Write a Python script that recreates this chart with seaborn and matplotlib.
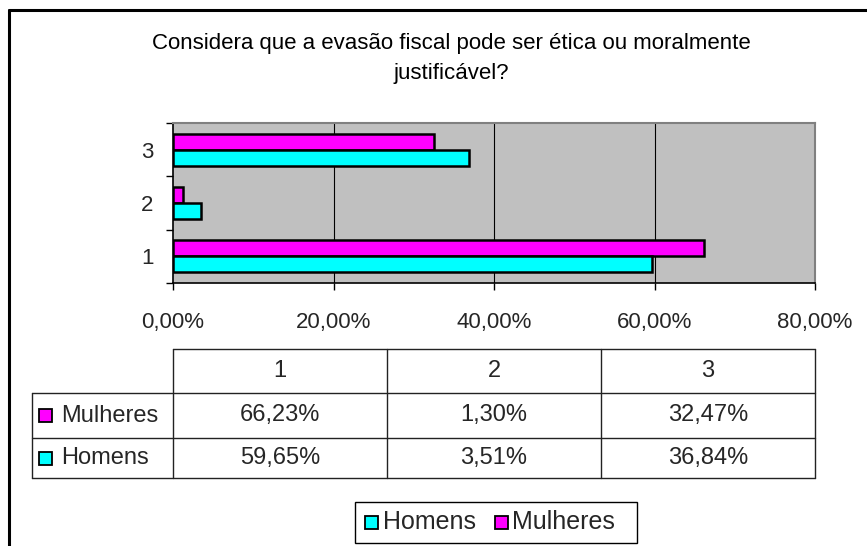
import matplotlib
matplotlib.use("Agg")
import matplotlib.pyplot as plt
import seaborn as sns
import pandas as pd
from matplotlib.patches import Rectangle
from matplotlib.lines import Line2D

# ---- data ----
categories = ["1", "2", "3"]
homens = [59.65, 3.51, 36.84]
mulheres = [66.23, 1.30, 32.47]
series_names = ["Homens", "Mulheres"]
x_ticks = [0, 20, 40, 60, 80]
title_text = "Considera que a evasão fiscal pode ser ética ou moralmente\njustificável?"

colors = {"Homens": "#00FFFF", "Mulheres": "#FF00FF"}

df = pd.DataFrame({
    "categoria": categories * 2,
    "serie": ["Homens"] * 3 + ["Mulheres"] * 3,
    "valor": homens + mulheres,
})

sns.set_theme(style="white")
plt.rcParams["font.family"] = ["Liberation Sans", "DejaVu Sans"]

W, H = 867, 546
fig = plt.figure(figsize=(W / 100, H / 100), dpi=100)
fig.patch.set_facecolor("white")

def fx(px):
    return px / W

def fy(py):
    return 1 - py / H

# overlay in pixel coordinates
ov = fig.add_axes([0, 0, 1, 1], zorder=0)
ov.set_xlim(0, W)
ov.set_ylim(H, 0)
ov.axis("off")

TICK_FS = 16
TABLE_FS = 17
LEGEND_FS = 18
TITLE_FS = 16

# plot axes
L, R, T, B = 173, 815, 123, 283
ax = fig.add_axes([fx(L), fy(B), fx(R) - fx(L), fy(T) - fy(B)], zorder=1)
sns.barplot(data=df, y="categoria", x="valor", hue="serie",
            order=["3", "2", "1"], hue_order=["Mulheres", "Homens"],
            palette=colors, orient="h", width=0.6, edgecolor="black",
            linewidth=1.8, legend=False, ax=ax, saturation=1)
ax.set_facecolor("#C0C0C0")
ax.set_xlim(0, 80)
ax.set_ylim(2.5, -0.5)
ax.set_xlabel("")
ax.set_ylabel("")
for xv in x_ticks[1:-1]:
    ax.axvline(xv, color="black", lw=0.8, zorder=0.5)
ax.set_xticks(x_ticks)
ax.set_xticklabels([f"{v:.2f}".replace(".", ",") + "%" for v in x_ticks], fontsize=TICK_FS)
ax.tick_params(axis="x", which="major", length=5, width=1, color="black",
               direction="out", bottom=True, pad=16)
ax.set_yticks([0, 1, 2])
ax.set_yticklabels(["3", "2", "1"], fontsize=TICK_FS)
ax.set_yticks([-0.5, 0.5, 1.5, 2.5], minor=True)
ax.tick_params(axis="y", which="major", length=0, pad=14)
ax.tick_params(axis="y", which="minor", length=5, width=1, color="black",
               direction="out", left=True)
for s in ["left", "bottom"]:
    ax.spines[s].set_color("black")
    ax.spines[s].set_linewidth(1.2)
for s in ["top", "right"]:
    ax.spines[s].set_color("#808080")
    ax.spines[s].set_linewidth(1.5)

# title
ov.text(451, 58.5, title_text, ha="center", va="center", fontsize=TITLE_FS,
        linespacing=1.5, color="black")

# outer chart border (top and left visible)
ov.add_line(Line2D([9, W], [10, 10], color="black", lw=2.2))
ov.add_line(Line2D([9, 9], [10, H], color="black", lw=2.2))

# data table
col_edges = [173, 387, 601, 815]
y_head, y_r1, y_r2, y_end = 349, 393, 438, 478
tl = 32
lc = "#222222"
ov.add_line(Line2D([col_edges[0], col_edges[-1]], [y_head, y_head], color=lc, lw=1))
for yy in [y_r1, y_r2, y_end]:
    ov.add_line(Line2D([tl, col_edges[-1]], [yy, yy], color=lc, lw=1))
for xx in col_edges:
    ov.add_line(Line2D([xx, xx], [y_head, y_end], color=lc, lw=1))
ov.add_line(Line2D([tl, tl], [y_r1, y_end], color=lc, lw=1))

centers = [(col_edges[i] + col_edges[i + 1]) / 2 for i in range(3)]
for c, cat in zip(centers, categories):
    ov.text(c, (y_head + y_r1) / 2, cat, ha="center", va="center", fontsize=TABLE_FS)

def fmt(v):
    return f"{v:.2f}".replace(".", ",") + "%"

rows = [("Mulheres", mulheres, y_r1, y_r2), ("Homens", homens, y_r2, y_end)]
for name, vals, y0, y1 in rows:
    yc = (y0 + y1) / 2
    ov.add_patch(Rectangle((39, yc - 6.5), 13, 13, facecolor=colors[name],
                           edgecolor="black", lw=1.3))
    ov.text(61, yc, name, ha="left", va="center", fontsize=TABLE_FS)
    for c, v in zip(centers, vals):
        ov.text(c, yc, fmt(v), ha="center", va="center", fontsize=TABLE_FS)

# legend
ov.add_patch(Rectangle((355, 502), 282, 41, facecolor="white",
                       edgecolor="black", lw=1))
leg_y = 522
leg_pos = {"Homens": (365, 383), "Mulheres": (495, 512)}
for name in series_names:
    sx, tx = leg_pos[name]
    ov.add_patch(Rectangle((sx, leg_y - 6.5), 13, 13, facecolor=colors[name],
                           edgecolor="black", lw=1.3))
    ov.text(tx, leg_y, name, ha="left", va="center", fontsize=LEGEND_FS)

fig.savefig("out.png", dpi=100, facecolor="white")
